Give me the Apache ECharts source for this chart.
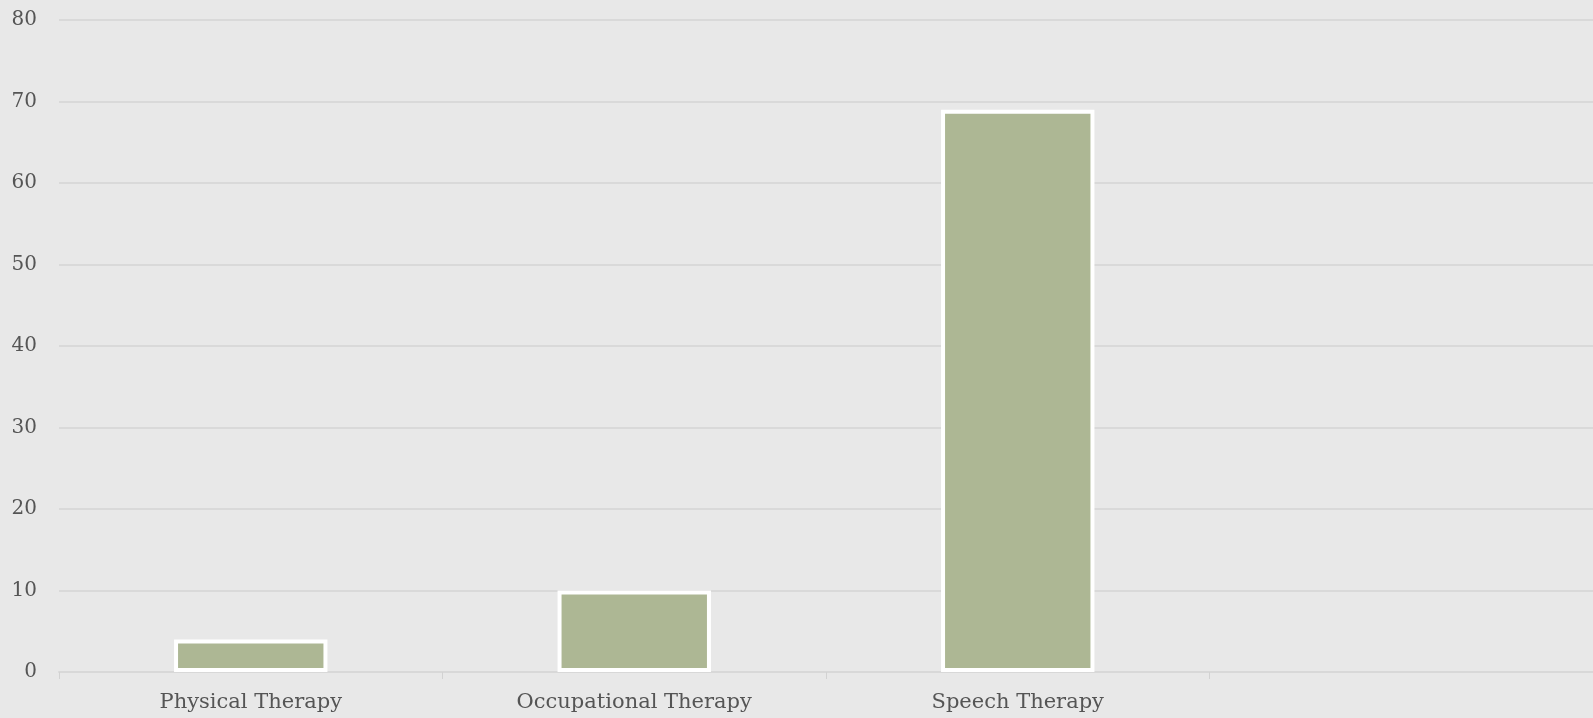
<!DOCTYPE html>
<html>
<head>
<meta charset="utf-8">
<script src="https://cdn.jsdelivr.net/npm/echarts@6/dist/echarts.min.js"></script>
<style>
  html, body { margin: 0; padding: 0; background: #e8e8e8; }
  #chart { width: 1593px; height: 718px; }
</style>
</head>
<body>
<div id="chart"></div>
<script>
// Therapy categories (last slot is an empty category)
const categories = ['Physical Therapy', 'Occupational Therapy', 'Speech Therapy', ''];
const counts = [4, 10, 69, null];
const yTicks = { min: 0, max: 80, interval: 10 };

const fontFamily = '"Palatino Linotype", Palatino, "Book Antiqua", "DejaVu Serif", serif';

const chart = echarts.init(document.getElementById('chart'));
chart.setOption({
  backgroundColor: '#e8e8e8',
  animation: false,
  grid: { left: 59, right: 0, top: 20, bottom: 46, containLabel: false },
  xAxis: {
    type: 'category',
    data: categories,
    axisLine: { show: true, lineStyle: { color: '#d8d8d8', width: 2 } },
    axisTick: { show: true, length: 7, lineStyle: { color: '#d2d2d2', width: 1 } },
    axisLabel: { color: '#555', fontFamily: fontFamily, fontSize: 21, margin: 20 },
    splitLine: { show: false }
  },
  yAxis: {
    type: 'value',
    min: yTicks.min,
    max: yTicks.max,
    interval: yTicks.interval,
    axisLine: { show: false },
    axisTick: { show: false },
    axisLabel: { color: '#555', fontFamily: fontFamily, fontSize: 20, margin: 22 },
    splitLine: { lineStyle: { color: '#d9d9d9', width: 2 } }
  },
  series: [{
    type: 'bar',
    data: counts,
    barWidth: '40%',
    itemStyle: { color: '#adb794', borderColor: '#ffffff', borderWidth: 4 }
  }]
});
</script>
</body>
</html>
